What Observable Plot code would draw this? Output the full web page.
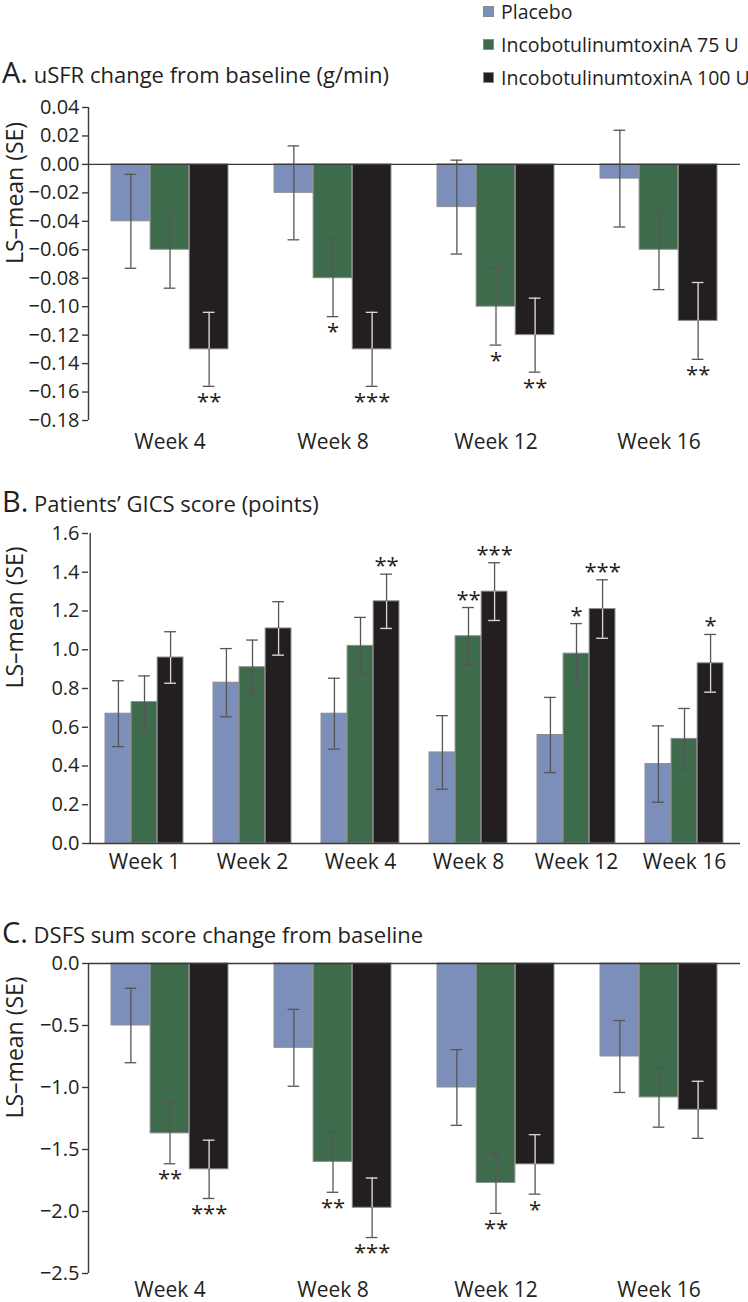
<!DOCTYPE html>
<html>
<head>
<meta charset="utf-8">
<script src="https://cdn.jsdelivr.net/npm/d3@7"></script>
<script src="https://cdn.jsdelivr.net/npm/@observablehq/plot@0.6"></script>
<style>
  html, body { margin: 0; padding: 0; background: #fff; }
  body { width: 748px; height: 1302px; position: relative; overflow: hidden; font-family: "Open Sans", sans-serif; color: #231f20; }
  .title { position: absolute; left: 2px; font-size: 22px; line-height: 30px; white-space: nowrap; }
  .title b { font-weight: normal; font-size: 29px; }
  .legend-row { position: absolute; left: 483px; height: 22px; display: flex; align-items: center; font-size: 19.5px; white-space: nowrap; }
  .sw { width: 9px; height: 9px; border: 1px solid #8a8a8a; margin-right: 7px; }
  svg { position: absolute; left: 0; }
</style>
</head>
<body>
<div id="root"></div>
<script>
// ---------- data ----------
const groups = ["Placebo", "IncobotulinumtoxinA 75 U", "IncobotulinumtoxinA 100 U"];
const colors = ["#7b8fba", "#3e6b4c", "#231f20"];

// Panel A: uSFR change from baseline (g/min)
const weeksA = ["Week 4", "Week 8", "Week 12", "Week 16"];
const aPlacebo = [-0.04, -0.02, -0.03, -0.01];
const a75 = [-0.06, -0.08, -0.10, -0.06];
const a100 = [-0.13, -0.13, -0.12, -0.11];
const aSEPlacebo = [0.033, 0.033, 0.033, 0.034];
const aSE75 = [0.027, 0.027, 0.027, 0.028];
const aSE100 = [0.026, 0.026, 0.026, 0.027];
const aStarsPlacebo = ["", "", "", ""];
const aStars75 = ["", "*", "*", ""];
const aStars100 = ["**", "***", "**", "**"];
const aTicks = [0.04, 0.02, 0.00, -0.02, -0.04, -0.06, -0.08, -0.10, -0.12, -0.14, -0.16, -0.18];

// Panel B: Patients' GICS score (points)
const weeksB = ["Week 1", "Week 2", "Week 4", "Week 8", "Week 12", "Week 16"];
const bPlacebo = [0.67, 0.83, 0.67, 0.47, 0.56, 0.41];
const b75 = [0.73, 0.91, 1.02, 1.07, 0.98, 0.54];
const b100 = [0.96, 1.11, 1.25, 1.30, 1.21, 0.93];
const bSEPlacebo = [0.17, 0.176, 0.183, 0.19, 0.194, 0.197];
const bSE75 = [0.135, 0.14, 0.147, 0.148, 0.155, 0.157];
const bSE100 = [0.133, 0.138, 0.14, 0.149, 0.151, 0.149];
const bStarsPlacebo = ["", "", "", "", "", ""];
const bStars75 = ["", "", "", "**", "*", ""];
const bStars100 = ["", "", "**", "***", "***", "*"];
const bTicks = [0.0, 0.2, 0.4, 0.6, 0.8, 1.0, 1.2, 1.4, 1.6];

// Panel C: DSFS sum score change from baseline
const weeksC = ["Week 4", "Week 8", "Week 12", "Week 16"];
const cPlacebo = [-0.50, -0.68, -1.00, -0.75];
const c75 = [-1.37, -1.60, -1.77, -1.08];
const c100 = [-1.66, -1.97, -1.62, -1.18];
const cSEPlacebo = [0.30, 0.31, 0.305, 0.29];
const cSE75 = [0.245, 0.245, 0.245, 0.24];
const cSE100 = [0.235, 0.24, 0.24, 0.23];
const cStarsPlacebo = ["", "", "", ""];
const cStars75 = ["**", "**", "**", ""];
const cStars100 = ["***", "***", "*", ""];
const cTicks = [0.0, -0.5, -1.0, -1.5, -2.0, -2.5];

const yLabel = "LS–mean (SE)";
const titles = [
  ["A.", "uSFR change from baseline (g/min)"],
  ["B.", "Patients’ GICS score (points)"],
  ["C.", "DSFS sum score change from baseline"]
];

// ---------- layout ----------
const W = 748, ML = 88, MR = 8;
const PI = 0.28, PO = 0.14;
const ink = "#3a3a3a";
const errDark = "#555555";
const errLight = "#d4d4d4";

function panel({weeks, means, ses, stars, domain, ticks, fmt, top, height, mt, mb, tickPad, zeroAt}) {
  const rows = weeks.flatMap((w, j) => groups.map((g, i) => ({
    week: w, gi: i, v: means[i][j], se: ses[i][j], star: stars[i][j]
  })));
  const n = weeks.length;
  const step = (W - ML - MR) / (n - PI + 2 * PO);
  const bw = step * (1 - PI);
  const w3 = bw / 3;
  const capW = 12;
  const marks = [];
  // y axis line
  marks.push(Plot.ruleX([weeks[0]], {x: d => d, y1: domain[0], y2: domain[1], dx: -step / 2, stroke: ink, strokeWidth: 1.4}));
  for (let i = 0; i < 3; i++) {
    const r = rows.filter(d => d.gi === i);
    marks.push(Plot.barY(r, {
      x: "week", y: "v", fill: colors[i], stroke: "#8f8f8f", strokeWidth: 1,
      insetLeft: i * w3, insetRight: (2 - i) * w3
    }));
  }
  // zero line
  marks.push(Plot.ruleY([zeroAt], {stroke: ink, strokeWidth: 1.4}));
  for (let i = 0; i < 3; i++) {
    const r = rows.filter(d => d.gi === i);
    const dx = (i - 1) * w3;
    const capInset = (bw - capW) / 2;
    marks.push(Plot.ruleX(r, {x: "week", y1: d => d.v - d.se, y2: d => d.v + d.se, dx, stroke: errDark, strokeWidth: 1.3}));
    marks.push(Plot.tickY(r, {x: "week", y: d => d.v - d.se, dx, insetLeft: capInset, insetRight: capInset, stroke: errDark, strokeWidth: 1.3}));
    marks.push(Plot.tickY(r, {x: "week", y: d => d.v + d.se, dx, insetLeft: capInset, insetRight: capInset, stroke: errDark, strokeWidth: 1.3}));
    if (i === 2) {
      // part of the error bar lying over the dark bar is drawn light
      marks.push(Plot.ruleX(r, {x: "week", y1: "v", y2: d => d.v - Math.sign(d.v) * d.se, dx, stroke: errLight, strokeWidth: 1.3}));
      marks.push(Plot.tickY(r, {x: "week", y: d => d.v - Math.sign(d.v) * d.se, dx, insetLeft: capInset, insetRight: capInset, stroke: errLight, strokeWidth: 1.3}));
    }
    const neg = r.filter(d => d.star && d.v < 0);
    const pos = r.filter(d => d.star && d.v >= 0);
    marks.push(Plot.text(neg, {x: "week", y: d => d.v - d.se, text: "star", dx, dy: 7, lineAnchor: "top", fontSize: 22, fill: "#231f20"}));
    marks.push(Plot.text(pos, {x: "week", y: d => d.v + d.se, text: "star", dx, dy: -1, lineAnchor: "bottom", fontSize: 22, fill: "#231f20"}));
  }
  marks.push(Plot.axisY({ticks, tickFormat: fmt, tickSize: 6, tickPadding: 3, label: null, stroke: ink, strokeWidth: 1.4, fontSize: 20, fill: "#231f20"}));
  marks.push(Plot.axisX({tickSize: 0, tickPadding: tickPad, label: null, fontSize: 21, fill: "#231f20"}));
  marks.push(Plot.text([yLabel], {frameAnchor: "left", rotate: -90, dx: -73, fontSize: 23, fill: "#231f20"}));
  const svg = Plot.plot({
    width: W, height, marginLeft: ML, marginRight: MR, marginTop: mt, marginBottom: mb,
    style: {fontFamily: "Open Sans", fontSize: "20px", background: "transparent", overflow: "visible"},
    x: {type: "band", domain: weeks, paddingInner: PI, paddingOuter: PO},
    y: {domain, ticks},
    marks
  });
  svg.style.top = top + "px";
  return svg;
}

const root = document.getElementById("root");

// legend
groups.forEach((g, i) => {
  const row = document.createElement("div");
  row.className = "legend-row";
  row.style.top = (33 * i) + "px";
  const sw = document.createElement("div");
  sw.className = "sw";
  sw.style.background = colors[i];
  row.appendChild(sw);
  const t = document.createElement("span");
  t.textContent = g;
  row.appendChild(t);
  root.appendChild(row);
});

// titles
const titleTops = [73, 502, 933];
titles.forEach(([l, t], k) => {
  const d = document.createElement("div");
  d.className = "title";
  d.style.top = (titleTops[k] - 16) + "px";
  const b = document.createElement("b");
  b.textContent = l;
  d.appendChild(b);
  d.appendChild(document.createTextNode(" " + t));
  root.appendChild(d);
});

root.appendChild(panel({
  weeks: weeksA, means: [aPlacebo, a75, a100], ses: [aSEPlacebo, aSE75, aSE100],
  stars: [aStarsPlacebo, aStars75, aStars100], domain: [-0.18, 0.04], ticks: aTicks,
  fmt: d3.format(".2f"), top: 95, height: 365, mt: 12, mb: 40, tickPad: 14, zeroAt: 0
}));
root.appendChild(panel({
  weeks: weeksB, means: [bPlacebo, b75, b100], ses: [bSEPlacebo, bSE75, bSE100],
  stars: [bStarsPlacebo, bStars75, bStars100], domain: [0, 1.6], ticks: bTicks,
  fmt: d3.format(".1f"), top: 520, height: 363, mt: 13, mb: 40, tickPad: 11, zeroAt: 0
}));
root.appendChild(panel({
  weeks: weeksC, means: [cPlacebo, c75, c100], ses: [cSEPlacebo, cSE75, cSE100],
  stars: [cStarsPlacebo, cStars75, cStars100], domain: [-2.5, 0], ticks: cTicks,
  fmt: d3.format(".1f"), top: 950, height: 352, mt: 13, mb: 29, tickPad: 9, zeroAt: 0
}));
</script>
</body>
</html>
